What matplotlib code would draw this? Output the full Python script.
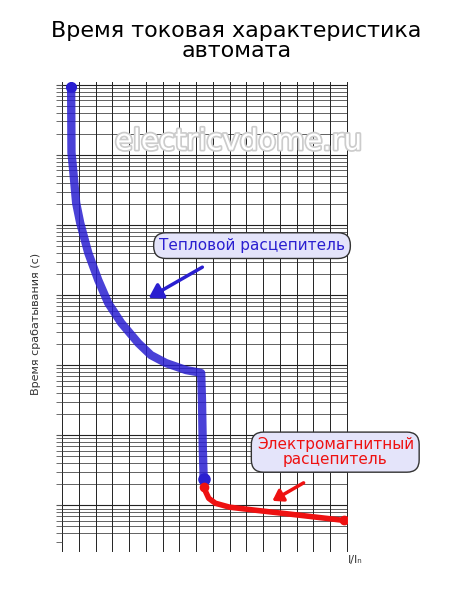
import matplotlib
matplotlib.use("Agg")
import matplotlib.pyplot as plt
import matplotlib.patheffects as pe
import numpy as np

# thermal release (blue) and magnetic release (red), x in grid units, y in seconds
thermal_x = [0.54, 0.56, 0.66, 0.84, 1.08, 1.56, 2.16, 2.75, 3.53, 4.55, 5.3, 6.2, 7.4, 8.0, 8.3,
             8.35, 8.4, 8.45]
thermal_y = [9400, 1070, 610, 205, 107, 40, 16.3, 7.7, 4.0, 2.06, 1.39, 1.07, 0.85, 0.8, 0.77,
             0.3, 0.06, 0.024]
magnetic_x = [8.45, 8.75, 9.15, 10.0, 11.55, 14.0, 16.8]
magnetic_y = [0.018, 0.0126, 0.0107, 0.0094, 0.0085, 0.0073, 0.0061]
vlines_x = np.arange(0, 18, 1)

BLUE = "#2a1fd0"
RED = "#ee1111"

fig = plt.figure(figsize=(4.5, 6.11), dpi=100)
ax = fig.add_axes([0.138, 0.113, 0.633, 0.753])
ax.set_yscale("log")
ax.set_ylim(0.003, 11000)
ax.set_xlim(0, 17)

for x in vlines_x:
    ax.axvline(x, ymin=-0.02, color="#222222", lw=0.7, zorder=1, clip_on=False)
ax.yaxis.grid(True, which="major", color="#222222", lw=0.8)
ax.yaxis.grid(True, which="minor", color="#222222", lw=0.5)
ax.set_xticks([])
ax.tick_params(axis="y", which="both", labelleft=False, length=4, color="#555555")
for s in ax.spines.values():
    s.set_visible(False)

ax.plot(thermal_x, thermal_y, color=BLUE, lw=6, alpha=0.85, solid_capstyle="round",
        solid_joinstyle="round", zorder=3)
ax.plot(thermal_x[0], thermal_y[0], "o", color=BLUE, ms=7, zorder=4)
ax.plot(thermal_x[-1], thermal_y[-1], "o", color=BLUE, ms=8, zorder=4)
ax.plot(magnetic_x, magnetic_y, color=RED, lw=4, solid_capstyle="round",
        solid_joinstyle="round", zorder=3)
ax.plot(magnetic_x[0], magnetic_y[0], "o", color=RED, ms=6, zorder=4)
ax.plot(magnetic_x[-1], magnetic_y[-1], "o", color=RED, ms=6, zorder=4)

fig.text(0.525, 0.933, "Время токовая характеристика\nавтомата", ha="center", va="center",
         fontsize=16, linespacing=1.0)
fig.text(0.53, 0.768, "electricvdome.ru", ha="center", va="center", fontsize=21,
         color="white", path_effects=[pe.withStroke(linewidth=2.5, foreground="#cccccc")])
fig.text(0.08, 0.47, "Время срабатывания (с)", rotation=90, ha="center", va="center",
         fontsize=8, color="#333333")
fig.text(0.79, 0.083, "I/Iₙ", ha="center", va="center", fontsize=8, color="#333333")

box = dict(boxstyle="round,pad=0.35,rounding_size=0.8", fc="#e4e4fa", ec="#333333", lw=1)
fig.text(0.56, 0.598, "Тепловой расцепитель", ha="center", va="center", fontsize=11,
         color=BLUE, bbox=box)
fig.text(0.745, 0.26, "Электромагнитный\nрасцепитель", ha="center", va="center", fontsize=11,
         color=RED, linespacing=0.95, bbox=box)
fig.add_artist(plt.Annotation("", xy=(0.325, 0.51), xytext=(0.455, 0.565),
               xycoords="figure fraction",
               arrowprops=dict(arrowstyle="-|>,head_length=0.8,head_width=0.5", color=BLUE, lw=2.5)))
fig.add_artist(plt.Annotation("", xy=(0.6, 0.178), xytext=(0.68, 0.212),
               xycoords="figure fraction",
               arrowprops=dict(arrowstyle="-|>,head_length=0.6,head_width=0.4", color=RED, lw=2.5)))

fig.savefig("out.png", dpi=100)
